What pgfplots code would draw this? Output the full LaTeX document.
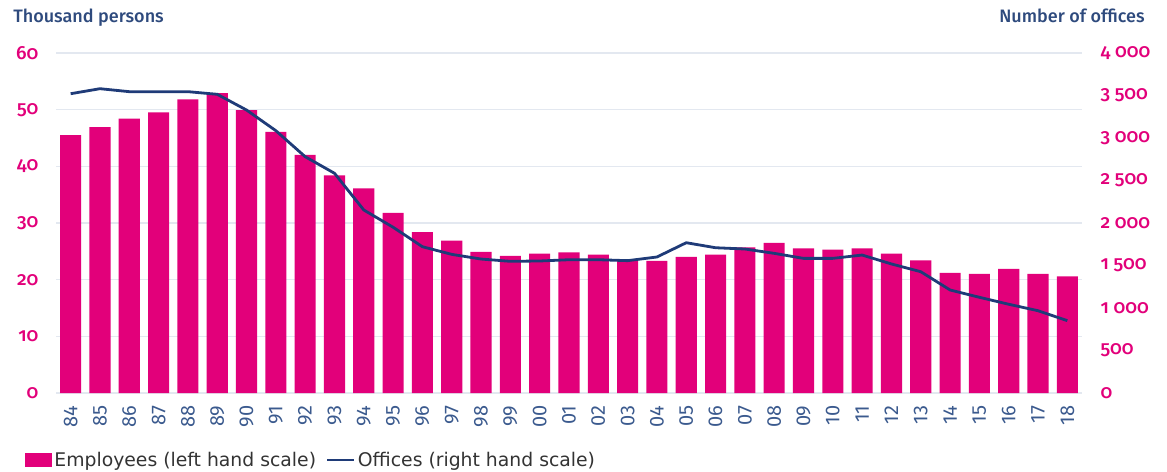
\documentclass[border=0pt]{standalone}
\usepackage{fontspec}
\setmainfont{Fira Sans}[UprightFont=* Medium, Numbers=OldStyle]
\newfontfamily\xfont{Fira Sans}
\newfontfamily\legfont{DejaVu Sans}
\usepackage{pgfplots}
\pgfplotsset{compat=1.18}
\usepackage{pgfplotstable}
\definecolor{mag}{HTML}{E2007A}
\definecolor{navy}{HTML}{1F3B78}
\definecolor{titleblue}{HTML}{2E4A7D}
\definecolor{xlab}{HTML}{3B5A8E}
\definecolor{gridc}{HTML}{E3E8F0}
\pgfplotstableread{
x emp off
0 45.5 3521
1 46.9 3580
2 48.4 3545
3 49.5 3545
4 51.8 3545
5 52.9 3514
6 49.9 3329
7 46.1 3086
8 42.0 2780
9 38.4 2585
10 36.1 2153
11 31.8 1950
12 28.4 1721
13 26.9 1631
14 24.9 1576
15 24.2 1549
16 24.6 1553
17 24.8 1568
18 24.4 1568
19 23.5 1557
20 23.3 1600
21 24.0 1768
22 24.4 1709
23 25.7 1694
24 26.5 1643
25 25.5 1584
26 25.3 1584
27 25.5 1623
28 24.6 1518
29 23.4 1427
30 21.2 1212
31 21.0 1126
32 21.9 1044
33 21.0 968
34 20.6 851
}\datatable
\begin{document}
\begin{tikzpicture}
\useasboundingbox (0,0) rectangle (1167bp,472bp);
\begin{axis}[
  at={(56bp,79bp)}, anchor=south west,
  scale only axis, width=1026bp, height=340bp,
  xmin=-0.5, xmax=34.5, ymin=0, ymax=60,
  axis line style={draw=none},
  xtick=data,
  xticklabels={84,85,86,87,88,89,90,91,92,93,94,95,96,97,98,99,00,01,02,03,04,05,06,07,08,09,10,11,12,13,14,15,16,17,18},
  x tick label style={rotate=90, anchor=east, font=\xfont\fontsize{20bp}{22bp}\selectfont, text=xlab},
  xticklabel shift=9bp,
  major tick length=0pt,
  ytick={0,10,...,60},
  y tick label style={font=\fontsize{19bp}{21bp}\selectfont, text=mag},
  yticklabel style={xshift=-14bp},
  /pgf/number format/assume math mode=true,
  ymajorgrids, grid style={gridc, line width=1.2bp},
  axis y line*=left,
  legend style={at={(-0.030,-0.197)}, anchor=west, draw=none, fill=none,
    legend columns=2, font=\legfont\fontsize{18.8bp}{20bp}\selectfont, text=black!80,
    /tikz/every even column/.append style={column sep=8bp},
    inner sep=0pt},
  legend image code/.code={\fill[mag] (0bp,-7bp) rectangle (27bp,7bp);},
  clip=false,
]
\addplot[ybar, bar width=0.72, fill=mag, draw=none, bar shift=0pt] table[x=x,y=emp] {\datatable};
\addlegendentry{Employees (left hand scale)}
\addlegendimage{legend image code/.code={\draw[navy, line width=2.8bp] (0bp,0bp) -- (27bp,0bp);}}
\addlegendentry{Offices (right hand scale)}
\node[anchor=base west, text=titleblue, font=\fontsize{18bp}{20bp}\selectfont] at (rel axis cs:-0.045,1.091) {Thousand persons};
\node[anchor=base east, text=titleblue, font=\fontsize{18bp}{20bp}\selectfont] at (rel axis cs:1.0645,1.091) {Number of offices};
\end{axis}
\begin{axis}[
  at={(56bp,79bp)}, anchor=south west,
  scale only axis, width=1026bp, height=340bp,
  xmin=-0.5, xmax=34.5, ymin=0, ymax=4000,
  axis x line=none,
  axis y line*=right,
  axis line style={draw=none},
  major tick length=0pt,
  ytick={0,500,...,4000},
  yticklabels={0,500,1\ 000,1\ 500,2\ 000,2\ 500,3\ 000,3\ 500,4\ 000},
  y tick label style={font=\fontsize{19bp}{21bp}\selectfont, text=mag, anchor=west},
  yticklabel style={xshift=15bp},
  /pgf/number format/assume math mode=true,
]
\addplot[navy, line width=2.8bp, mark=none] table[x=x,y=off] {\datatable};
\end{axis}
\end{tikzpicture}
\end{document}
